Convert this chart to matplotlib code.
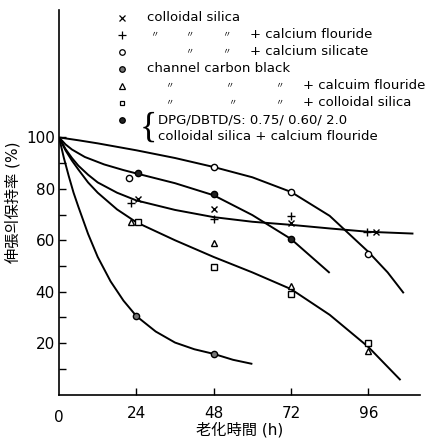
import matplotlib
matplotlib.use("Agg")
import matplotlib.pyplot as plt
import numpy as np

plt.rcParams['font.family'] = ['DejaVu Sans', 'Noto Sans CJK KR']

# ---- data ----
t4 = [24, 48, 72, 96]
cs_x = [76, 72, 66.7, 63.2]          # colloidal silica (x)
cs_caf = [74.5, 68.3, 69.5, 63.2]    # + calcium flouride (+)
cs_casi = [84.2, 88.5, 78.8, 54.6]   # + calcium silicate (o)
t_ccb = [24, 48]
ccb = [30.5, 15.8]                   # channel carbon black
ccb_caf = [67, 59, 42.2, 17]         # ccb + calcium flouride (triangle)
ccb_cs = [67, 49.6, 39, 20]          # ccb + colloidal silica (square)
t_dpg = [24, 48, 72]
dpg = [86.2, 78, 60.5]               # DPG/DBTD/S filled

# trend curves
curveA_t = [0, 6, 12, 24, 36, 48, 60, 72, 84, 96, 102, 107]
curveA_y = [100, 98.9, 97.7, 95, 92, 88.5, 84.5, 78.8, 69.5, 55.5, 47.5, 39.4]
curveB_t = [0, 2, 4, 8, 14, 20, 24, 36, 48, 60, 72, 84]
curveB_y = [100, 97.3, 95.3, 92.4, 89.5, 87.3, 86, 82.2, 77.5, 69.8, 60.5, 47.3]
curveC_t = [0, 2, 4, 6, 9, 12, 18, 24, 36, 48, 60, 72, 84, 96, 110]
curveC_y = [100, 95.5, 92, 89, 85.5, 82.5, 78.5, 75.5, 71.8, 69, 67.2, 66, 64.6, 63.3, 62.6]
curveD_t = [0, 2, 4, 6, 9, 12, 18, 24, 36, 48, 60, 72, 84, 96, 106]
curveD_y = [100, 95, 91, 87.5, 82.5, 78.5, 72, 67, 60, 53.5, 47.5, 41, 31, 18.5, 5.6]
curveE_t = [0, 1.5, 3, 4.5, 6, 9, 12, 16, 20, 24, 30, 36, 42, 48, 54, 60]
curveE_y = [100, 92, 85, 78.5, 73, 62.5, 53.5, 44, 36.5, 30.5, 24.5, 20.2, 17.6, 15.8, 13.5, 11.9]

xticks = [24, 48, 72, 96]
yticks = [20, 40, 60, 80, 100]

fig = plt.figure(figsize=(4.28, 4.40), dpi=100)
ax = fig.add_axes([0.138, 0.1034, 0.843, 0.874])
ax.set_xlim(0, 112)
ax.set_ylim(0, 149.6)

lw = 1.4
for tt, yy in [(curveA_t, curveA_y), (curveB_t, curveB_y), (curveC_t, curveC_y),
               (curveD_t, curveD_y), (curveE_t, curveE_y)]:
    ax.plot(tt, yy, color='black', lw=lw, zorder=2, solid_capstyle='butt')

ms = 5
def mk(x, y, dx, marker, **kw):
    x = np.asarray(x, float) + np.asarray(dx, float)
    base = dict(linestyle='none', color='black', markersize=ms, zorder=4,
                markeredgewidth=1.0)
    base.update(kw)
    ax.plot(x, y, marker=marker, **base)

mk(t4, cs_x, [0.5, 0, 0, 2.3], 'x', markersize=4.5)
mk(t4, cs_caf, [-1.8, 0, 0, -0.3], '+', markersize=6)
mk(t4, cs_casi, [-2.2, 0, 0, 0], 'o', markerfacecolor='white', markersize=4.5)
mk(t_ccb, ccb, [0, 0], 'o', markerfacecolor='#777777', markersize=4.5)
mk(t4, ccb_caf, [-1.6, 0, 0, 0], '^', markerfacecolor='white', markersize=4.5)
mk(t4, ccb_cs, [0.6, 0, 0, 0], 's', markerfacecolor='white', markersize=4)
mk(t_dpg, dpg, [0.6, 0, 0], 'o', markerfacecolor='#222222', markersize=4.5)

# axes styling
for s in ['top', 'right']:
    ax.spines[s].set_visible(False)
for s in ['left', 'bottom']:
    ax.spines[s].set_linewidth(1.2)
ax.set_xticks(xticks)
ax.set_xticklabels([str(v) for v in xticks])
ax.set_yticks(yticks)
ax.set_yticklabels([str(v) for v in yticks])
ax.set_yticks([10, 30, 50, 70, 90], minor=True)
ax.tick_params(axis='both', which='both', direction='in', length=5, width=1.0,
               labelsize=11)
ax.tick_params(axis='x', pad=8)
ax.tick_params(axis='y', pad=3)
ax.text(0, -0.04, '0', transform=ax.get_xaxis_transform(), ha='center', va='top',
        fontsize=11)

ax.set_xlabel('老化時間 (h)', fontsize=11, labelpad=1)
ax.set_ylabel('伸張의保持率 (%)', fontsize=11, labelpad=4)

# legend as text
fs = 9.5
def fx(px):
    return (px - 59) / 361 * 112
def fy(py):
    return (394.5 - py) / 384.5 * 149.6
rows = [18, 35, 52, 69, 86, 103, 120]
leg_markers = [dict(marker='x', markerfacecolor='none', markersize=4),
               dict(marker='+', markerfacecolor='none', markersize=5.5),
               dict(marker='o', markerfacecolor='white', markersize=4),
               dict(marker='o', markerfacecolor='#777777', markersize=4),
               dict(marker='^', markerfacecolor='white', markersize=4),
               dict(marker='s', markerfacecolor='white', markersize=3.5),
               dict(marker='o', markerfacecolor='#222222', markersize=4)]
for r, m in zip(rows, leg_markers):
    ax.plot([fx(122)], [fy(r)], linestyle='none', color='black',
            markeredgewidth=0.9, clip_on=False, zorder=5, **m)

def t(px, py, s, size=None, **kw):
    ax.text(fx(px), fy(py), s, fontsize=size if size else fs, ha='left',
            va='center', **kw)

t(147, 18, 'colloidal silica')
for px in [150, 185, 222]:
    t(px, 35, '〃', size=6)
t(250, 35, '+ calcium flouride')
for px in [185, 222]:
    t(px, 52, '〃', size=6)
t(250, 52, '+ calcium silicate')
t(147, 69, 'channel carbon black')
for px in [165, 225, 275]:
    t(px, 86, '〃', size=6)
t(303, 86, '+ calcuim flouride')
for px in [165, 228, 275]:
    t(px, 103, '〃', size=6)
t(303, 103, '+ colloidal silica')
ax.text(fx(157), fy(128), '{', fontsize=26, ha='right', va='center',
        family='Liberation Serif')
t(158, 120, 'DPG/DBTD/S: 0.75/ 0.60/ 2.0')
t(158, 137, 'colloidal silica + calcium flouride')

fig.savefig('out.png', dpi=100)
